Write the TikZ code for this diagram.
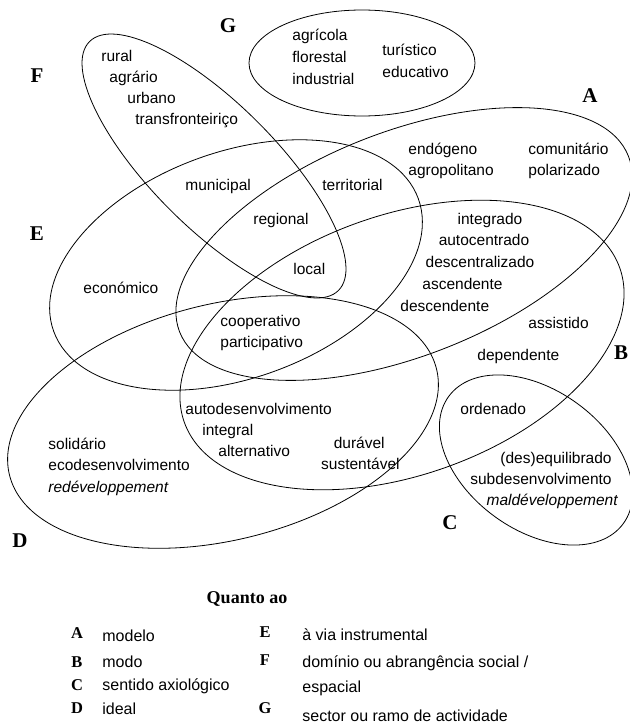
\documentclass[tikz,border=0pt]{standalone}
\usepackage{fontspec}
\setmainfont{Liberation Serif}
\setsansfont{Liberation Sans}
\begin{document}
\begin{tikzpicture}[x=1pt,y=-1pt,line width=0.8pt,
    term/.style={font=\sffamily\fontsize{15.5}{21}\selectfont,inner sep=0pt},
    cls/.style={font=\bfseries\fontsize{21}{21}\selectfont,inner sep=0pt,anchor=base},
    key/.style={font=\bfseries\fontsize{16.5}{16.5}\selectfont,inner sep=0pt,anchor=base},
    keytext/.style={font=\sffamily\fontsize{16}{20}\selectfont,inner sep=0pt,anchor=base west}]
  \useasboundingbox (0,0) rectangle (629,728);
  % the seven sets
  \draw[rotate around={21.4:(404,244)}] (404,244) ellipse [x radius=241, y radius=112]; % A
  \draw[rotate around={19.5:(402,345)}] (402,345) ellipse [x radius=231, y radius=130]; % B
  \draw[rotate around={-36:(536,460)}] (536,460) ellipse [x radius=108, y radius=70];   % C
  \draw[rotate around={14:(223,422)}] (223,422) ellipse [x radius=220, y radius=118];   % D
  \draw[rotate around={20:(236,265)}] (236,265) ellipse [x radius=194, y radius=113];   % E
  \draw[rotate around={-45:(214,166)}] (214,166) ellipse [x radius=176, y radius=62];   % F
  \draw (362,63) ellipse [x radius=113, y radius=53];                                   % G
  % set letters
  \node[cls] (catA) at (590,102) {A};
  \node[cls] (catB) at (621,359) {B};
  \node[cls] (catC) at (450,529) {C};
  \node[cls] (catD) at (20,547) {D};
  \node[cls] (catE) at (37,240) {E};
  \node[cls] (catF) at (37,82) {F};
  \node[cls] (catG) at (228,32) {G};
  % G
  \foreach \w [count=\i] in {agrícola,florestal,industrial}
    \node[term,anchor=base west] (g\i) at (292,18+22*\i) {\w};
  \foreach \w [count=\i] in {turístico,educativo}
    \node[term,anchor=base west] (gg\i) at (382,33+22*\i) {\w};
  % F
  \node[term,anchor=base west] (rural) at (101,61) {rural};
  \node[term,anchor=base west] (agrario) at (109,82) {agrário};
  \node[term,anchor=base west] (urbano) at (127,103) {urbano};
  \node[term,anchor=base west] (transf) at (135,124) {transfronteiriço};
  % E and overlaps
  \node[term,anchor=base west] (municipal) at (185,190) {municipal};
  \node[term,anchor=base west] (territorial) at (322,190) {territorial};
  \node[term,anchor=base west] (regional) at (253,224) {regional};
  \node[term,anchor=base west] (local) at (293,274) {local};
  \node[term,anchor=base west] (economico) at (83,293) {económico};
  % A
  \node[term,anchor=base west] (endogeno) at (408,154) {endógeno};
  \node[term,anchor=base west] (agropol) at (408,175) {agropolitano};
  \node[term,anchor=base west] (comunit) at (528,154) {comunitário};
  \node[term,anchor=base west] (polar) at (528,175) {polarizado};
  % B
  \node[term,anchor=base] (integrado) at (490,224) {integrado};
  \node[term,anchor=base] (autocent) at (484,245) {autocentrado};
  \node[term,anchor=base] (descent) at (480,267) {descentralizado};
  \node[term,anchor=base west] (ascend) at (422,289) {ascendente};
  \node[term,anchor=base west] (descend) at (400,311) {descendente};
  \node[term,anchor=base west] (assist) at (528,328) {assistido};
  \node[term,anchor=base west] (depend) at (477,360) {dependente};
  \node[term,anchor=base west] (coop) at (220,326) {cooperativo};
  \node[term,anchor=base west] (partic) at (220,347) {participativo};
  \node[term,anchor=base west] (autodes) at (185,414) {autodesenvolvimento};
  \node[term,anchor=base west] (integral) at (202,435) {integral};
  \node[term,anchor=base west] (altern) at (218,456) {alternativo};
  \node[term,anchor=base east] (duravel) at (385,448) {durável};
  \node[term,anchor=base east] (sustent) at (400,469) {sustentável};
  % C
  \node[term,anchor=base west] (ordenado) at (460,414) {ordenado};
  \node[term,anchor=base east] (desequil) at (612,463) {(des)equilibrado};
  \node[term,anchor=base east] (subdes) at (612,484) {subdesenvolvimento};
  \node[term,anchor=base east] (maldev) at (618,505) {\itshape maldéveloppement};
  % D
  \node[term,anchor=base west] (solid) at (48,449) {solidário};
  \node[term,anchor=base west] (ecodes) at (48,470) {ecodesenvolvimento};
  \node[term,anchor=base west] (redev) at (48,492) {\itshape redéveloppement};
  % legend
  \node[font=\bfseries\fontsize{18}{18}\selectfont,inner sep=0pt,anchor=base] (quanto) at (247,603) {Quanto ao};
  \node[key] (kA) at (77,638) {A};
  \node[key] (kB) at (77,667) {B};
  \node[key] (kC) at (77,690) {C};
  \node[key] (kD) at (77,713) {D};
  \node[key] (kE) at (265,637) {E};
  \node[key] (kF) at (265,665) {F};
  \node[key] (kG) at (265,713) {G};
  \node[keytext] (tA) at (102,641) {modelo};
  \node[keytext] (tB) at (102,667) {modo};
  \node[keytext] (tC) at (102,690) {sentido axiológico};
  \node[keytext] (tD) at (102,714) {ideal};
  \node[keytext] (tE) at (302,640) {à via instrumental};
  \node[keytext] (tF) at (302,667) {domínio ou abrangência social /};
  \node[keytext] (tF2) at (302,692) {espacial};
  \node[keytext] (tG) at (302,721) {sector ou ramo de actividade};
\end{tikzpicture}
\end{document}
